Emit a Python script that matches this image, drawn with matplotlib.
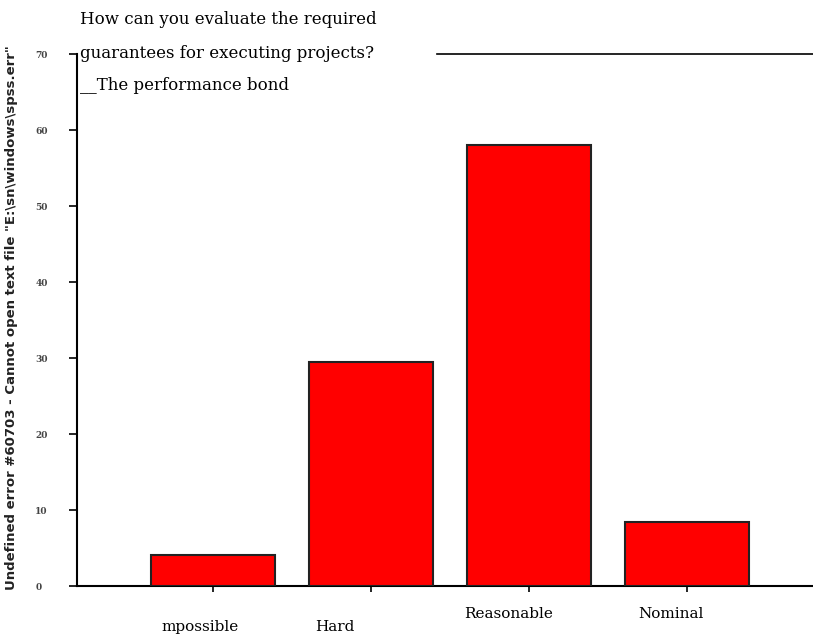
import matplotlib
matplotlib.use("Agg")
import matplotlib.pyplot as plt
import matplotlib.transforms as mtransforms

categories = ["mpossible", "Hard", "Reasonable", "Nominal"]
values = [4.1, 29.5, 58.0, 8.4]
yticks = [0, 10, 20, 30, 40, 50, 60, 70]
title_lines = ["How can you evaluate the required",
               "guarantees for executing projects?",
               "__The performance bond"]
ylabel = 'Undefined error #60703 - Cannot open text file "E:\\sn\\windows\\spss.err"'

fig = plt.figure(figsize=(8.13, 6.39), dpi=100)
W, H = 813, 639
ax = fig.add_axes([77 / W, 1 - 586 / H, (813 - 77) / W, (586 - 54) / H])

x = list(range(len(categories)))
ax.bar(x, values, width=0.78, color="#ff0000", edgecolor="#222222", linewidth=1.5, zorder=3)

ax.set_xlim(-0.861, 3.797)
ax.set_ylim(0, 70)
ax.set_yticks(yticks)
ax.set_yticklabels([str(v) for v in yticks], fontsize=6.5, color="#444444", family="DejaVu Serif", fontweight="bold")
ax.tick_params(axis="y", direction="out", length=6, width=1.2, pad=24)
for lab in ax.get_yticklabels():
    lab.set_horizontalalignment("left")
ax.set_xticks(x)
ax.set_xticklabels([])
ax.tick_params(axis="x", direction="out", length=4, width=1.2)

for s in ["top", "right"]:
    ax.spines[s].set_visible(False)
ax.spines["left"].set_linewidth(1.5)
ax.spines["bottom"].set_linewidth(1.5)
ax.axhline(70, xmin=(437 - 77) / (813 - 77), xmax=1, color="black", lw=1.2, clip_on=False)

# category labels (staggered as in reference)
label_offsets = [(-0.08, 627), (-0.23, 627), (-0.13, 614), (-0.10, 614)]
trans = mtransforms.blended_transform_factory(ax.transData, fig.transFigure)
for xi, lab, (dx, ypix) in zip(x, categories, label_offsets):
    ax.text(xi + dx, 1 - ypix / H, lab, transform=trans,
            ha="center", va="center", fontsize=11, family="DejaVu Serif")

# title lines
ys = [20, 53, 85]
for line, yp in zip(title_lines, ys):
    fig.text(80 / W, 1 - yp / H, line, ha="left", va="center", fontsize=12, family="DejaVu Serif",
             bbox=dict(facecolor="white", edgecolor="none", pad=0.5))

fig.text(12 / W, 1 - 318 / H, ylabel, rotation=90, ha="center", va="center", fontsize=9.5,
         family="DejaVu Sans", fontweight="bold", color="#222222")

fig.savefig("out.png", dpi=100)
